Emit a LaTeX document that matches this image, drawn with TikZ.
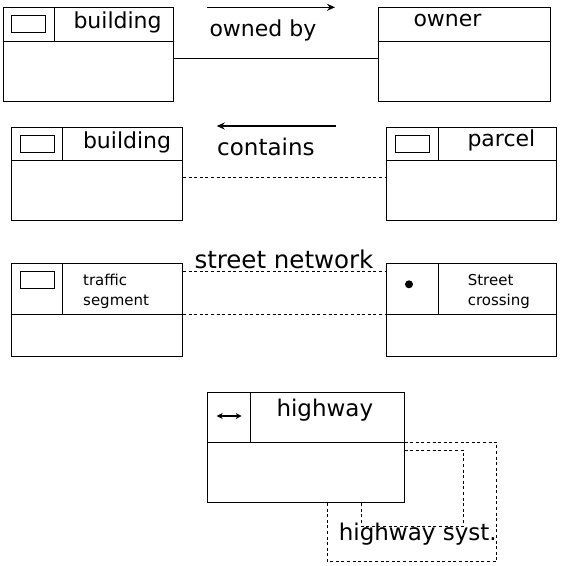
\documentclass[tikz,border=0pt]{standalone}
\usepackage{fontspec}
\setmainfont{DejaVu Sans}
\usetikzlibrary{arrows.meta}
\tikzstyle{classbox} = [rectangle, draw=black, line width=1pt, inner sep=0pt]
\tikzstyle{icon} = [rectangle, draw=black, line width=0.9pt, inner sep=0pt, minimum width=34pt, minimum height=17pt]
\tikzstyle{title} = [anchor=base west, inner sep=0pt, font=\fontsize{22}{26}\selectfont]
\tikzstyle{small} = [anchor=base west, inner sep=0pt, font=\fontsize{15}{20}\selectfont, align=left]
\tikzstyle{arrow} = [line width=1.3pt, -{Stealth[length=8pt,width=7pt]}]
\tikzstyle{dashline} = [line width=1pt, dash pattern=on 3pt off 2.6pt]

\begin{document}
\begin{tikzpicture}[x=1pt, y=-1pt, line width=1pt]
\useasboundingbox (0,0) rectangle (564,566);
% boxes
\node (bldA) [classbox, minimum width=170pt, minimum height=94pt] at (88,54) {};
\node (owner) [classbox, minimum width=172pt, minimum height=94pt] at (464,54) {};
\node (bldB) [classbox, minimum width=171pt, minimum height=93pt] at (97,173.5) {};
\node (parcel) [classbox, minimum width=170pt, minimum height=93pt] at (471,173.5) {};
\node (traffic) [classbox, minimum width=171pt, minimum height=93pt] at (97,310) {};
\node (crossing) [classbox, minimum width=170pt, minimum height=93pt] at (471,310) {};
\node (highway) [classbox, minimum width=197pt, minimum height=110pt] at (305.5,447) {};
% header lines
\draw (bldA.west |- 0,41.5) -- (bldA.east |- 0,41.5);
\draw (owner.west |- 0,41.5) -- (owner.east |- 0,41.5);
\draw (bldB.west |- 0,160) -- (bldB.east |- 0,160);
\draw (parcel.west |- 0,160) -- (parcel.east |- 0,160);
\draw (traffic.west |- 0,314.3) -- (traffic.east |- 0,314.3);
\draw (crossing.west |- 0,314.3) -- (crossing.east |- 0,314.3);
\draw (highway.west |- 0,442) -- (highway.east |- 0,442);
% dividers
\draw (bldA.north -| 54.5,0) -- (54.5,41.5);
\draw (bldB.north -| 62.5,0) -- (62.5,160);
\draw (parcel.north -| 438.5,0) -- (438.5,160);
\draw (traffic.north -| 62.5,0) -- (62.5,314.3);
\draw (crossing.north -| 438.5,0) -- (438.5,314.3);
\draw (highway.north -| 250.7,0) -- (250.7,442);
% symbols
\node (iconA) [icon] at (28,23.5) {};
\node (iconB) [icon, minimum height=16.5pt] at (37,144) {};
\node (iconP) [icon, minimum width=33.5pt, minimum height=16.5pt] at (412.5,144) {};
\node (iconT) [icon] at (37,279.7) {};
\node (dotC) [circle, fill=black, inner sep=0pt, minimum size=8pt] at (409,284.3) {};
\coordinate (hwL) at (216.7,416);
\coordinate (hwR) at (241.7,416);
\draw [line width=1.2pt, {Stealth[length=6pt,width=6pt]}-{Stealth[length=6pt,width=6pt]}] (hwL) -- (hwR);
% labels
\node (bldAt) [title] at (73,28.3) {building};
\node (ownert) [title] at (413,26.7) {owner};
\node (bldBt) [title] at (82.5,148.3) {building};
\node (parcelt) [title] at (467,146) {parcel};
\node (trafft) [small] at (82.7,305.7) {traffic\\segment};
\node (crosst) [small] at (467.3,305.5) {Street\\crossing};
\node (hwt) [title, font=\fontsize{23}{26}\selectfont] at (276,416.7) {highway};
\node (ownedby) [title] at (209,36) {owned by};
\node (contains) [title, font=\fontsize{23}{26}\selectfont] at (216.7,155.7) {contains};
\node (network) [title, font=\fontsize{24.5}{26}\selectfont] at (194,268) {street network};
\node (hwsyst) [title, font=\fontsize{23}{26}\selectfont] at (338.3,540) {highway syst.};
% relations
\coordinate (ownS) at (207,7.3);
\coordinate (ownE) at (335,7.3);
\draw [arrow] (ownS) -- (ownE);
\coordinate (conS) at (335.7,126);
\coordinate (conE) at (216.7,126);
\draw [arrow] (conS) -- (conE);
\draw (bldA.east |- 0,58.3) -- (owner.west |- 0,58.3);
\draw [dashline] (bldB.east |- 0,177.5) -- (parcel.west |- 0,177.5);
\draw [dashline] (traffic.east |- 0,271) -- (crossing.west |- 0,271);
\draw [dashline] (traffic.east |- 0,314.3) -- (crossing.west |- 0,314.3);
\draw [dashline] (highway.east |- 0,442.3) -- (496.7,442.3) -- (496.7,561.7) -- (327.3,561.7) -- (highway.south -| 327.3,0);
\draw [dashline] (highway.east |- 0,450) -- (463.3,450) -- (463.3,526.7) -- (361.7,526.7) -- (highway.south -| 361.7,0);
\end{tikzpicture}
\end{document}
